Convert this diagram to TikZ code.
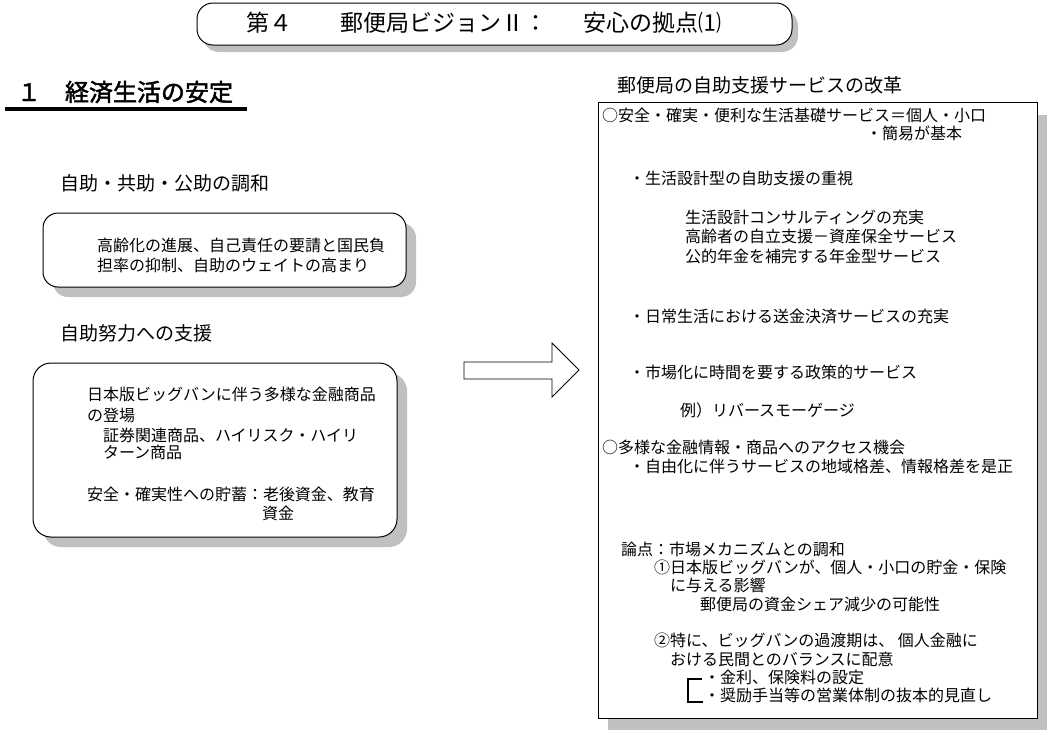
\documentclass[tikz,border=0pt]{standalone}
\usepackage{fontspec}
\setmainfont{Noto Sans CJK JP}[AutoFakeBold=2]
\definecolor{shade}{RGB}{192,192,192}
\begin{document}
\begin{tikzpicture}[x=1pt,y=-1pt,
  ln/.style={anchor=base west, inner sep=0pt, outer sep=0pt},
  f16/.style={ln, font=\fontsize{16}{18}\selectfont},
  f19/.style={ln, font=\fontsize{19}{22}\selectfont},
  shadowfill/.style={fill=shade, draw=none},
  boxline/.style={fill=white, draw=black, line width=1pt},
]
\useasboundingbox (0,0) rectangle (1050,748);
\fill[white] (0,0) rectangle (1050,748);

% title
\fill[shadowfill, rounded corners=16pt] (203,10) rectangle (798,52);
\draw[boxline, rounded corners=16pt] (197,3) rectangle (792,45);
\node[ln, font=\fontsize{23}{26}\selectfont] (title) at (246,31.7) {第４\hspace{49pt}郵便局ビジョンⅡ：\hspace{36pt}安心の拠点⑴};

% left heading
\node[ln, font=\fontsize{24}{28}\selectfont\bfseries] (h1) at (17,101) {１　経済生活の安定};
\coordinate (ulA) at (5,108.7);
\coordinate (ulB) at (247,108.7);
\draw[line width=4pt] (ulA) -- (ulB);

\node[f19] (s1) at (60,190.2) {自助・共助・公助の調和};
\node[f19] (s2) at (60,340.2) {自助努力への支援};

% box 1
\fill[shadowfill, rounded corners=15pt] (53,223) rectangle (416,297);
\draw[boxline, rounded corners=15pt] (43,213) rectangle (406,287);
\node[f16] (b1a) at (97,251.5) {高齢化の進展、自己責任の要請と国民負};
\node[f16] (b1b) at (97,271.5) {担率の抑制、自助のウェイトの高まり};

% box 2
\fill[shadowfill, rounded corners=18pt] (43,373) rectangle (407,547);
\draw[boxline, rounded corners=18pt] (33,363) rectangle (397,537);
\node[f16] (b2a) at (87,400.5) {日本版ビッグバンに伴う多様な金融商品};
\node[f16] (b2b) at (87,421) {の登場};
\node[f16] (b2c) at (103,441) {証券関連商品、ハイリスク・ハイリ};
\node[f16] (b2d) at (103,458.5) {ターン商品};
\node[f16] (b2e) at (87,500.5) {安全・確実性への貯蓄：老後資金、教育};
\node[f16] (b2f) at (262,519.5) {資金};

% block arrow
\draw[fill=white, line width=0.8pt] (464,362) -- (552,362) -- (552,343) -- (579,370) -- (552,397) -- (552,379) -- (464,379) -- cycle;

% right side
\node[f19] (rh) at (617,92.2) {郵便局の自助支援サービスの改革};
\fill[shadowfill] (608,115) rectangle (1047,730);
\draw[boxline] (598,102) rectangle (1037,718);

\node[f16] (r1) at (602,121) {○安全・確実・便利な生活基礎サービス＝個人・小口};
\node[f16] (r2) at (866,139.5) {・簡易が基本};
\node[f16] (r3) at (629,184) {・生活設計型の自助支援の重視};
\node[f16] (r4) at (685,223.5) {生活設計コンサルティングの充実};
\node[f16] (r5) at (685,242.5) {高齢者の自立支援－資産保全サービス};
\node[f16] (r6) at (685,262.5) {公的年金を補完する年金型サービス};
\node[f16] (r7) at (629,322) {・日常生活における送金決済サービスの充実};
\node[f16] (r8) at (629,378) {・市場化に時間を要する政策的サービス};
\node[f16] (r9) at (680,416) {例）リバースモーゲージ};
\node[f16] (r10) at (602,453.5) {○多様な金融情報・商品へのアクセス機会};
\node[f16] (r11) at (629,472) {・自由化に伴うサービスの地域格差、情報格差を是正};
\node[f16] (r12) at (621,555) {論点：市場メカニズムとの調和};
\node[f16] (r13) at (654,573.5) {①日本版ビッグバンが、個人・小口の貯金・保険};
\node[f16] (r14) at (670,591.5) {に与える影響};
\node[f16] (r15) at (700,610.5) {郵便局の資金シェア減少の可能性};
\node[f16] (r16) at (654,646.5) {②特に、ビッグバンの過渡期は、 個人金融に};
\node[f16] (r17) at (670,665.5) {おける民間とのバランスに配意};
\node[f16] (r18) at (704,683.5) {・金利、保険料の設定};
\node[f16] (r19) at (704,701.5) {・奨励手当等の営業体制の抜本的見直し};

% bracket
\coordinate (brA) at (702,679);
\coordinate (brB) at (688,679);
\coordinate (brC) at (688,702);
\coordinate (brD) at (703,702);
\draw[line width=2.5pt] (brA) -- (brB) -- (brC) -- (brD);
\end{tikzpicture}
\end{document}
